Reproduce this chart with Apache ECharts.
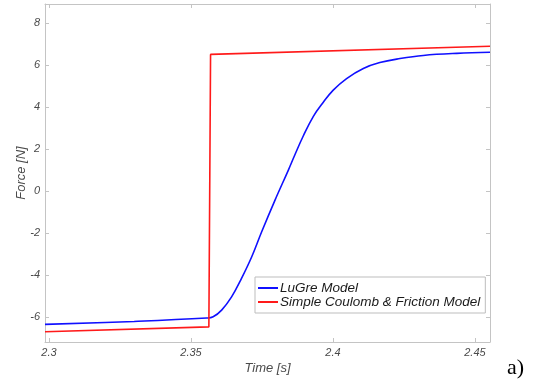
<!DOCTYPE html>
<html>
<head>
<meta charset="utf-8">
<script src="https://cdn.jsdelivr.net/npm/echarts@6/dist/echarts.min.js"></script>
<style>
  html, body { margin: 0; padding: 0; background: #fff; }
  #chart { width: 533px; height: 381px; }
</style>
</head>
<body>
<div id="chart"></div>
<script>
// Friction force during a velocity reversal: LuGre vs. simple Coulomb model
const lugreTime  = [2.2986, 2.330, 2.3555, 2.3578, 2.3608, 2.3643, 2.3678, 2.3714, 2.3749, 2.3796, 2.3843, 2.3866, 2.3895, 2.3931, 2.3966, 2.4001, 2.4048, 2.4107, 2.4165, 2.4236, 2.4318, 2.4436, 2.4553];
const lugreForce = [-6.36, -6.22, -6.06, -6.00, -5.68, -5.05, -4.17, -3.14, -1.95, -0.44, 0.99, 1.72, 2.60, 3.55, 4.22, 4.80, 5.35, 5.83, 6.11, 6.30, 6.45, 6.55, 6.60];

const coulombTime  = [2.2986, 2.3563, 2.3569, 2.4553];
const coulombForce = [-6.71, -6.48, 6.50, 6.89];

const xTicks = [2.3, 2.35, 2.4, 2.45];
const yTicks = [-6, -4, -2, 0, 2, 4, 6, 8];
const seriesNames = ['LuGre Model', 'Simple Coulomb & Friction Model'];

const X_MIN = 2.2986, X_MAX = 2.4553;
const Y_MIN = -7.2, Y_MAX = 8.9;

const axisGray = '#c4c4c4';
const labelGray = '#4a4a4a';
const font = '"Liberation Sans", Arial, Helvetica, sans-serif';

const pairs = (xs, ys) => xs.map((x, i) => [x, ys[i]]);

const boxAxis = (extra) => Object.assign({
  type: 'value',
  axisLine: { show: true, onZero: false, lineStyle: { color: axisGray, width: 1 } },
  splitLine: { show: false },
}, extra);

const chart = echarts.init(document.getElementById('chart'), null, { renderer: 'canvas' });
chart.setOption({
  backgroundColor: '#fff',
  animation: false,
  grid: { left: 45, top: 4, right: 43, bottom: 39, show: false },
  xAxis: [
    boxAxis({
      position: 'bottom', min: X_MIN, max: X_MAX,
      name: 'Time [s]', nameLocation: 'middle', nameGap: 20, nameMoveOverlap: false,
      nameTextStyle: { fontFamily: font, fontStyle: 'italic', fontSize: 13, color: labelGray },
      axisTick: { show: true, inside: true, length: 4, lineStyle: { color: axisGray }, customValues: xTicks },
      axisLabel: { show: true, margin: 5, fontFamily: font, fontStyle: 'italic', fontSize: 11, color: labelGray,
                   customValues: xTicks, formatter: v => String(+v.toFixed(2)) }
    }),
    boxAxis({
      position: 'top', min: X_MIN, max: X_MAX,
      axisTick: { show: true, inside: true, length: 4, lineStyle: { color: axisGray }, customValues: xTicks },
      axisLabel: { show: false }
    })
  ],
  yAxis: [
    boxAxis({
      position: 'left', min: Y_MIN, max: Y_MAX,
      name: 'Force [N]', nameLocation: 'middle', nameGap: 17, nameMoveOverlap: false,
      nameTextStyle: { fontFamily: font, fontStyle: 'italic', fontSize: 13, color: labelGray },
      axisTick: { show: true, inside: true, length: 4, lineStyle: { color: axisGray }, customValues: yTicks },
      axisLabel: { show: true, margin: 5, fontFamily: font, fontStyle: 'italic', fontSize: 11, color: labelGray,
                   customValues: yTicks, formatter: v => String(Math.round(v)) }
    }),
    boxAxis({
      position: 'right', min: Y_MIN, max: Y_MAX,
      axisTick: { show: true, inside: true, length: 4, lineStyle: { color: axisGray }, customValues: yTicks },
      axisLabel: { show: false }
    })
  ],
  legend: {
    orient: 'vertical',
    left: 255, top: 277,
    padding: [4, 5, 4, 3],
    itemGap: 0,
    itemWidth: 20, itemHeight: 2,
    icon: 'rect',
    backgroundColor: '#fff',
    borderColor: '#bdbdbd', borderWidth: 1,
    textStyle: { fontFamily: font, fontStyle: 'italic', fontSize: 13.5, lineHeight: 14, color: '#1a1a1a', padding: [0, 0, 0, -3] },
    data: seriesNames
  },
  series: [
    {
      name: seriesNames[0], type: 'line', xAxisIndex: 0, yAxisIndex: 0,
      data: pairs(lugreTime, lugreForce),
      smooth: 0.4,
      showSymbol: false, symbol: 'none',
      lineStyle: { color: '#1010ff', width: 1.6 }, itemStyle: { color: '#1010ff' },
      z: 2
    },
    {
      name: seriesNames[1], type: 'line', xAxisIndex: 0, yAxisIndex: 0,
      data: pairs(coulombTime, coulombForce),
      showSymbol: false, symbol: 'none',
      lineStyle: { color: '#ff1a1a', width: 1.6 }, itemStyle: { color: '#ff1a1a' },
      z: 3
    }
  ],
  graphic: [
    {
      type: 'text', left: 507, top: 357,
      style: { text: 'a)', fontFamily: '"Liberation Serif", "Times New Roman", serif', fontSize: 22, fill: '#000' }
    }
  ]
});
</script>
</body>
</html>
